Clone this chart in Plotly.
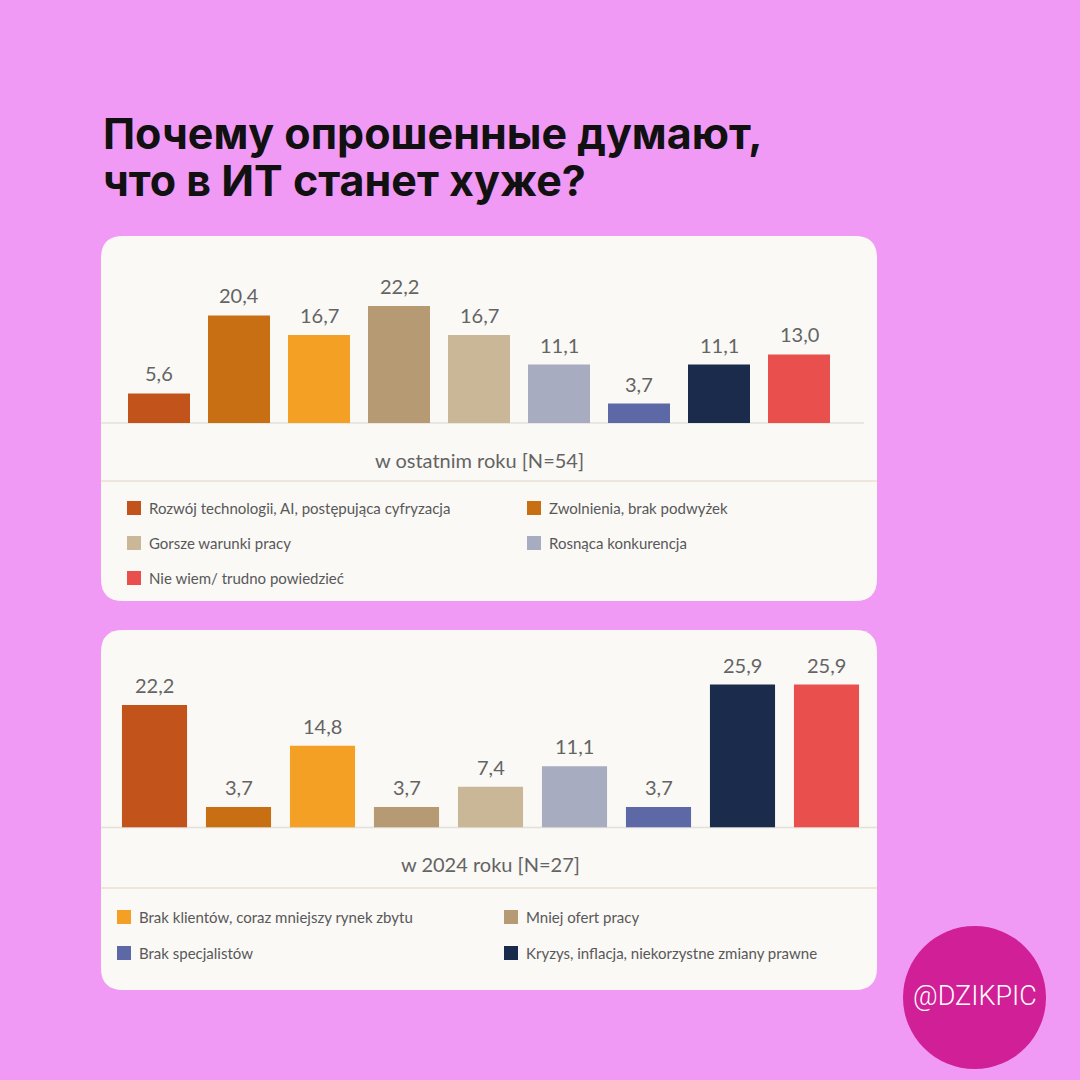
import plotly.graph_objects as go

# categories (shared by both panels) and their colours
categories = [
    "Rozwój technologii, AI, postępująca cyfryzacja",
    "Zwolnienia, brak podwyżek",
    "Brak klientów, coraz mniejszy rynek zbytu",
    "Mniej ofert pracy",
    "Gorsze warunki pracy",
    "Rosnąca konkurencja",
    "Brak specjalistów",
    "Kryzys, inflacja, niekorzystne zmiany prawne",
    "Nie wiem/ trudno powiedzieć",
]
colors = ["#C2531B", "#C96F13", "#F3A024", "#B59A74", "#C9B797",
          "#A7ACC1", "#5C69A6", "#1B2B4B", "#E9504D"]

values_last_year = [5.6, 20.4, 16.7, 22.2, 16.7, 11.1, 3.7, 11.1, 13.0]
values_2024 = [22.2, 3.7, 14.8, 3.7, 7.4, 11.1, 3.7, 25.9, 25.9]

caption_top = "w ostatnim roku [N=54]"
caption_bottom = "w 2024 roku [N=27]"

# which categories each panel lists in its legend block
legend_top = [0, 1, 4, 5, 8]
legend_bottom = [2, 3, 6, 7]

title_lines = ["Почему опрошенные думают,", "что в ИТ станет хуже?"]
badge = "@DZIKPIC"

W = H = 1080
BG = "#F09AF6"
CARD = "#FAF9F6"
LABEL = "#646464"
FONT = "Lato"


def px(x):
    return x / W


def py(y):
    return 1 - y / H


def rounded_rect(x0, y0, x1, y1, r):
    # pixel box -> svg path in paper coords
    X = lambda v: f"{px(v):.5f}"
    Y = lambda v: f"{py(v):.5f}"
    return (f"M {X(x0 + r)} {Y(y0)} L {X(x1 - r)} {Y(y0)} "
            f"Q {X(x1)} {Y(y0)} {X(x1)} {Y(y0 + r)} L {X(x1)} {Y(y1 - r)} "
            f"Q {X(x1)} {Y(y1)} {X(x1 - r)} {Y(y1)} L {X(x0 + r)} {Y(y1)} "
            f"Q {X(x0)} {Y(y1)} {X(x0)} {Y(y1 - r)} L {X(x0)} {Y(y0 + r)} "
            f"Q {X(x0)} {Y(y0)} {X(x0 + r)} {Y(y0)} Z")


def fmt(v):
    return f"{v:.1f}".replace(".", ",")


def note(x, y, text, size, color, family=FONT, xanchor="center", **kw):
    return dict(x=px(x), y=py(y), xref="paper", yref="paper", text=text, showarrow=False,
                xanchor=xanchor, yanchor="middle", font=dict(family=family, size=size, color=color, **kw))


fig = go.Figure()
fig.add_trace(go.Bar(x=categories, y=values_last_year, marker=dict(color=colors, line_width=0),
                     xaxis="x", yaxis="y", showlegend=False, hoverinfo="skip"))
fig.add_trace(go.Bar(x=categories, y=values_2024, marker=dict(color=colors, line_width=0),
                     xaxis="x2", yaxis="y2", showlegend=False, hoverinfo="skip"))

shapes = []
annotations = []

# cards
for (y0, y1) in [(236, 601), (630, 990)]:
    shapes.append(dict(type="path", path=rounded_rect(101, y0, 877, y1, 22), xref="paper", yref="paper",
                       fillcolor=CARD, line_width=0, layer="below"))

# baselines and dividers
shapes.append(dict(type="line", xref="paper", yref="paper", x0=px(101), x1=px(864), y0=py(423), y1=py(423),
                   line=dict(color="#E4E0DA", width=1.5), layer="below"))
shapes.append(dict(type="line", xref="paper", yref="paper", x0=px(101), x1=px(877), y0=py(481), y1=py(481),
                   line=dict(color="#EEE6DA", width=2), layer="below"))
shapes.append(dict(type="line", xref="paper", yref="paper", x0=px(101), x1=px(877), y0=py(827.5), y1=py(827.5),
                   line=dict(color="#E4E0DA", width=1.5), layer="below"))
shapes.append(dict(type="line", xref="paper", yref="paper", x0=px(101), x1=px(877), y0=py(888), y1=py(888),
                   line=dict(color="#EEE6DA", width=2), layer="below"))

# value labels
for xa, ya, vals in [("x", "y", values_last_year), ("x2", "y2", values_2024)]:
    for c, v in zip(categories, vals):
        annotations.append(dict(x=c, y=v, xref=xa, yref=ya, text=fmt(v), showarrow=False,
                                xanchor="center", yanchor="bottom", yshift=6,
                                font=dict(family=FONT, size=20, color=LABEL)))

# captions
annotations.append(note(479, 460, caption_top, 20, LABEL))
annotations.append(note(490, 864, caption_bottom, 20, LABEL))

# legend blocks
for idx, x_cols, y_rows in [(legend_top, (127, 527), (508, 543, 578)),
                            (legend_bottom, (117, 504), (917, 953))]:
    for k, i in enumerate(idx):
        cx = x_cols[k % 2]
        cy = y_rows[k // 2]
        shapes.append(dict(type="rect", xref="paper", yref="paper", x0=px(cx), x1=px(cx + 14),
                           y0=py(cy - 7), y1=py(cy + 7), fillcolor=colors[i], line_width=0))
        annotations.append(note(cx + 20, cy, categories[i], 15, "#585858", xanchor="left"))

# title
for line, y in zip(title_lines, (133, 180)):
    annotations.append(note(101, y, line, 43, "#111111", family="Inter", xanchor="left", weight=700))

# badge
shapes.append(dict(type="circle", xref="paper", yref="paper", x0=px(903), x1=px(1046), y0=py(926), y1=py(1069),
                   fillcolor="#D11F97", line_width=0))
annotations.append(note(975, 996, badge, 27, "white", family="Roboto", weight=300))

axis_common = dict(showticklabels=False, showgrid=False, zeroline=False, showline=False, ticks="")
fig.update_layout(
    width=W, height=H,
    margin=dict(l=0, r=0, t=0, b=0),
    paper_bgcolor=BG, plot_bgcolor="rgba(0,0,0,0)",
    bargap=0.225,
    xaxis=dict(domain=[px(119), px(839)], anchor="y", **axis_common),
    yaxis=dict(domain=[py(423), py(423 - 25 * 5.27)], range=[0, 25], anchor="x", **axis_common),
    xaxis2=dict(domain=[px(112.5), px(868.5)], anchor="y2", **axis_common),
    yaxis2=dict(domain=[py(827.5), py(827.5 - 30 * 5.52)], range=[0, 30], anchor="x2", **axis_common),
    shapes=shapes,
    annotations=annotations,
    showlegend=False,
)

fig.write_html("out.html", config={"displayModeBar": False},
               post_script="document.body.style.margin='0';")
